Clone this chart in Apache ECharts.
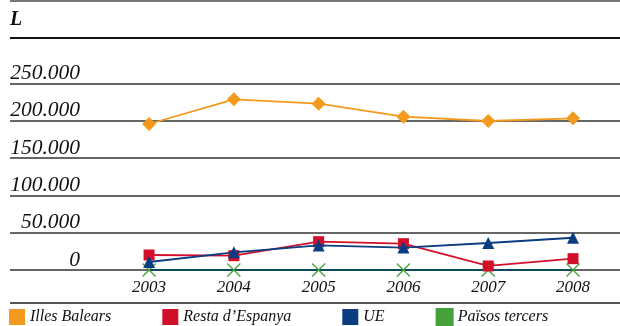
<!DOCTYPE html>
<html>
<head>
<meta charset="utf-8">
<script src="https://cdn.jsdelivr.net/npm/echarts@6/dist/echarts.min.js"></script>
<style>
  html, body { margin: 0; padding: 0; background: #fff; }
  #chart { width: 620px; height: 326px; }
</style>
</head>
<body>
<div id="chart"></div>
<script>
// chart data
var years = [2003, 2004, 2005, 2006, 2007, 2008];
var illesBalears = [195700, 228800, 222900, 205500, 199700, 203300];
var restaEspanya = [20100, 19200, 38000, 35300, 5400, 15200];
var ue = [10700, 23700, 33000, 30000, 36200, 43200];
var paisosTercers = [0, 0, 0, 0, 0, 0];
var yTicks = [0, 50000, 100000, 150000, 200000, 250000];

var serifFont = '"Liberation Serif", "DejaVu Serif", serif';

function pairs(vals) {
    var out = [];
    for (var i = 0; i < years.length; i++) {
        out.push([years[i], vals[i]]);
    }
    return out;
}

function fmtThousands(v) {
    return String(v).replace(/\B(?=(\d{3})+(?!\d))/g, '.');
}

var myChart = echarts.init(document.getElementById('chart'));
var option = {
    animation: false,
    grid: { left: 10, right: 0, top: 83.5, bottom: 56 },
    graphic: [
        { type: 'line', shape: { x1: 10, y1: 1, x2: 620, y2: 1 }, style: { stroke: '#777', lineWidth: 2 } },
        { type: 'line', shape: { x1: 10, y1: 38, x2: 620, y2: 38 }, style: { stroke: '#111', lineWidth: 2 } },
        { type: 'line', shape: { x1: 10, y1: 303, x2: 620, y2: 303 }, style: { stroke: '#555', lineWidth: 2 } },
        { type: 'text', left: 10, top: 10, style: { text: 'L', font: 'italic bold 20px ' + serifFont, fill: '#111' } }
    ],
    xAxis: {
        type: 'value',
        min: 2001.36,
        max: 2008.554,
        axisLine: { show: false },
        axisTick: { show: false },
        splitLine: { show: false },
        axisLabel: {
            customValues: years,
            margin: 9,
            fontFamily: serifFont,
            fontStyle: 'italic',
            fontSize: 17,
            color: '#111',
            formatter: function (v) { return String(v); }
        }
    },
    yAxis: {
        type: 'value',
        min: 0,
        max: 250000,
        interval: 50000,
        axisLine: { show: false },
        axisTick: { show: false },
        splitLine: { lineStyle: { color: '#333', width: 1.6 } },
        axisLabel: {
            customValues: yTicks,
            margin: -70,
            align: 'right',
            verticalAlign: 'bottom',
            padding: [0, 0, -1, 0],
            fontFamily: serifFont,
            fontStyle: 'italic',
            fontSize: 21.5,
            color: '#111',
            formatter: function (v) { return fmtThousands(v); }
        }
    },
    legend: {
        left: 9,
        top: 308,
        padding: 0,
        itemWidth: 16,
        itemHeight: 16,
        itemGap: 51,
        icon: 'rect',
        textStyle: {
            fontFamily: serifFont,
            fontStyle: 'italic',
            fontSize: 16,
            color: '#111',
            padding: [3, 0, 0, 0]
        },
        data: ['Illes Balears', "Resta d’Espanya", 'UE', 'Països tercers']
    },
    series: [
        {
            name: 'Països tercers',
            type: 'line',
            data: pairs(paisosTercers),
            symbol: 'path://M0,0L10,10M10,0L0,10',
            symbolSize: 13,
            itemStyle: { color: '#45A23A', borderColor: '#45A23A', borderWidth: 1.3 },
            lineStyle: { color: '#0B4A5E', width: 2 },
            z: 3
        },
        {
            name: 'Illes Balears',
            type: 'line',
            data: pairs(illesBalears),
            symbol: 'diamond',
            symbolSize: 14,
            itemStyle: { color: '#F39A1E' },
            lineStyle: { color: '#F39A1E', width: 1.8 },
            z: 4
        },
        {
            name: "Resta d’Espanya",
            type: 'line',
            data: pairs(restaEspanya),
            symbol: 'rect',
            symbolSize: 11,
            itemStyle: { color: '#D2102A' },
            lineStyle: { color: '#D2102A', width: 1.8 },
            z: 5
        },
        {
            name: 'UE',
            type: 'line',
            data: pairs(ue),
            symbol: 'triangle',
            symbolSize: [12, 12],
            itemStyle: { color: '#0A3C82' },
            lineStyle: { color: '#0A3C82', width: 1.8 },
            z: 6
        }
    ]
};
myChart.setOption(option);
</script>
</body>
</html>
